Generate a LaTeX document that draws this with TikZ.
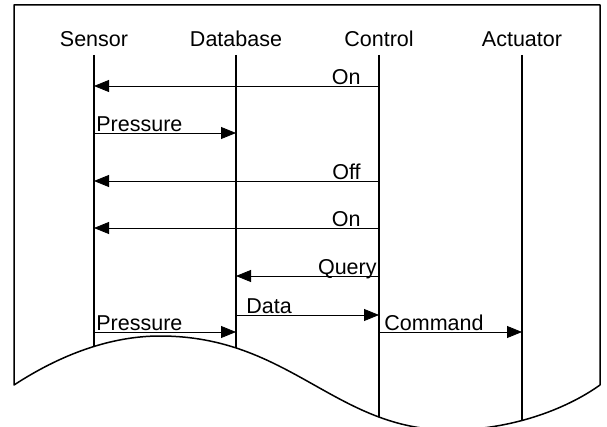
\documentclass[tikz,border=0pt]{standalone}
\usepackage{fontspec}
\setmainfont{Liberation Sans}
\usetikzlibrary{arrows.meta}

\tikzset{
  lifeline/.style={line width=1.5pt},
  msg/.style={line width=0.8pt, -{Triangle[length=15pt,width=12pt]}},
  lbl/.style={inner sep=0pt, font=\fontsize{21.5}{26}\selectfont},
}
\newcommand\pageoutline{(14,385) -- (14,5) -- (600,5) -- (600,385)
  .. controls (565,410) and (510,430) .. (450,430)
  .. controls (335,430) and (290,336) .. (160,336)
  .. controls (110,336) and (60,355) .. (14,385) -- cycle}

\begin{document}
\begin{tikzpicture}[x=1pt,y=-1pt]
  \useasboundingbox (0,0) rectangle (607,427);

  % Frame
  \draw[lifeline, line join=round] \pageoutline;

  % Labels
  \node[lbl, anchor=base] (sensor) at (94,47) {Sensor};
  \node[lbl, anchor=base] (database) at (236,47) {Database};
  \node[lbl, anchor=base] (control) at (379,47) {Control};
  \node[lbl, anchor=base] (actuator) at (522,47) {Actuator};

  % Lifelines
  \begin{scope}
    \clip \pageoutline;
    \foreach \n/\x in {sensor/94,database/236,control/379,actuator/522}{
      \coordinate (\n-top) at (\x,55);
      \coordinate (\n-bot) at (\x,440);
      \draw[lifeline] (\n-top) -- (\n-bot);
    }
  \end{scope}

  % Messages
  \coordinate (m1) at (0,86);
  \coordinate (m2) at (0,133);
  \coordinate (m3) at (0,181);
  \coordinate (m4) at (0,228);
  \coordinate (m5) at (0,276);
  \coordinate (m6) at (0,315);
  \coordinate (m7) at (0,332);

  \draw[msg] (control-top |- m1) -- node[lbl, pos=0, anchor=base east, xshift=-18pt, yshift=1.5pt] {On} (sensor-top |- m1);
  \draw[msg] (sensor-top |- m2) -- node[lbl, pos=0, anchor=base west, xshift=2pt, yshift=1.5pt] {Pressure} (database-top |- m2);
  \draw[msg] (control-top |- m3) -- node[lbl, pos=0, anchor=base east, xshift=-18pt, yshift=1.5pt] {Off} (sensor-top |- m3);
  \draw[msg] (control-top |- m4) -- node[lbl, pos=0, anchor=base east, xshift=-18pt, yshift=1.5pt] {On} (sensor-top |- m4);
  \draw[msg] (control-top |- m5) -- node[lbl, pos=0, anchor=base east, xshift=-2pt, yshift=1.5pt] {Query} (database-top |- m5);
  \draw[msg] (database-top |- m6) -- node[lbl, pos=0, anchor=base west, xshift=10pt, yshift=1.5pt] {Data} (control-top |- m6);
  \draw[msg] (sensor-top |- m7) -- node[lbl, pos=0, anchor=base west, xshift=2pt, yshift=1.5pt] {Pressure} (database-top |- m7);
  \draw[msg] (control-top |- m7) -- node[lbl, pos=0, anchor=base west, xshift=5pt, yshift=1.5pt] {Command} (actuator-top |- m7);

\end{tikzpicture}
\end{document}
